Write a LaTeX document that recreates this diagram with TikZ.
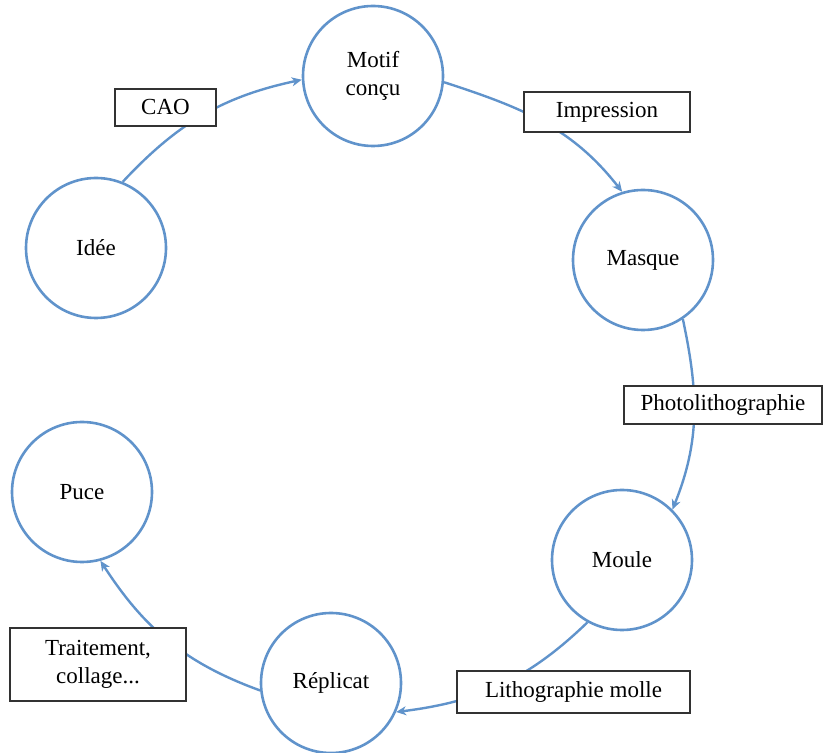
\documentclass[tikz,border=0pt]{standalone}
\usepackage{fontspec}
\setmainfont{Liberation Serif}
\usetikzlibrary{arrows.meta}
\definecolor{cblue}{RGB}{96,147,203}
\definecolor{cbox}{RGB}{50,50,50}
\tikzset{
  etape/.style={circle,draw=cblue,line width=2.6pt,minimum size=140pt,inner sep=0pt,align=center,font=\fontsize{23}{28}\selectfont},
  label box/.style={draw=cbox,line width=1.2pt,fill=white,inner sep=0pt,align=center,font=\fontsize{23}{28}\selectfont},
  conn/.style={draw=cblue,line width=2.4pt,-{Stealth[length=10pt,width=9pt,inset=3pt]}}
}
\begin{document}
\begin{tikzpicture}[x=1pt,y=1pt]
\useasboundingbox (0,0) rectangle (823,753);
\node[etape] (idee) at (96,505) {Idée};
\node[etape] (motif) at (373,677) {Motif\\conçu};
\node[etape] (masque) at (643,493) {Masque};
\node[etape] (moule) at (622,193) {Moule};
\node[etape] (replicat) at (331,70) {Réplicat};
\node[etape] (puce) at (82,261) {Puce};

\draw[conn] (idee.68) to[out=47,in=192] (motif.183);
\draw[conn] (motif.-5) to[out=-18,in=128] (masque.107);
\draw[conn] (masque.-56) to[out=-78,in=68] (moule.45);
\draw[conn] (moule.-119) to[out=-136,in=7] (replicat.-24);
\draw[conn] (replicat.186) to[out=160,in=-57] (puce.-75);

\node[label box,minimum width=101pt,minimum height=37pt] (cao) at (165.5,645.5) {CAO};
\node[label box,minimum width=166pt,minimum height=40pt] (impr) at (607,641) {Impression};
\node[label box,minimum width=198pt,minimum height=38pt] (photo) at (723,348) {Photolithographie};
\node[label box,minimum width=233pt,minimum height=42pt] (litho) at (573.5,61) {Lithographie molle};
\node[label box,minimum width=176pt,minimum height=73pt] (trait) at (98,88.5) {Traitement,\\collage...};
\end{tikzpicture}
\end{document}
